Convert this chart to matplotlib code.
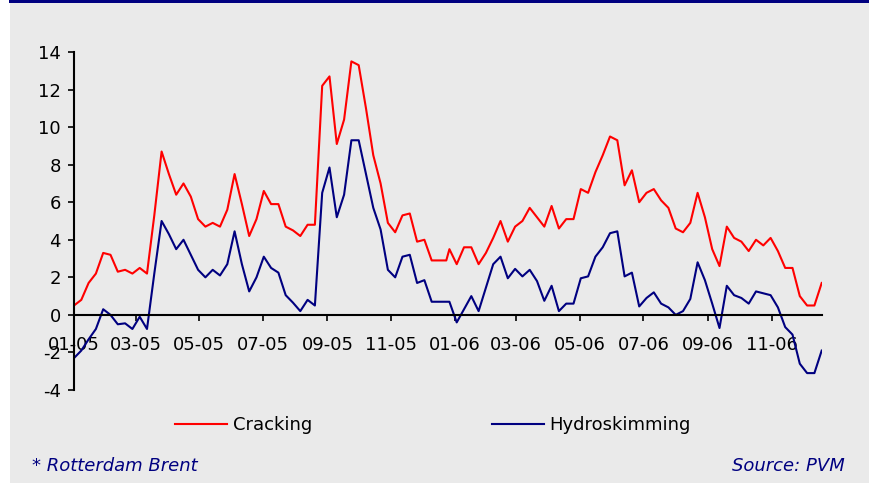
import numpy as np
import pandas as pd
import matplotlib
matplotlib.use('Agg')
import matplotlib.pyplot as plt
import matplotlib.dates as mdates
from matplotlib.patches import Rectangle

# Weekly margins, USD/bbl (2005 quoted on Fridays, 2006 on Mondays)
dates_2005 = pd.date_range('2005-01-07', periods=52, freq='7D')
dates_2006 = pd.date_range('2006-01-02', periods=52, freq='7D')
dates = dates_2005.append(dates_2006)

cracking_2005 = [0.5, 0.8, 1.7, 2.2, 3.3, 3.2, 2.3, 2.4, 2.2, 2.5, 2.2, 5.3, 8.7,
                 7.5, 6.4, 7.0, 6.3, 5.1, 4.7, 4.9, 4.7, 5.6, 7.5, 5.9, 4.2, 5.1,
                 6.6, 5.9, 5.9, 4.7, 4.5, 4.2, 4.8, 4.8, 12.2, 12.7, 9.1, 10.4, 13.5,
                 13.3, 11.0, 8.5, 7.0, 4.9, 4.4, 5.3, 5.4, 3.9, 4.0, 2.9, 2.9, 2.9]
cracking_2006 = [3.5, 2.7, 3.6, 3.6, 2.7, 3.3, 4.1, 5.0, 3.9, 4.7, 5.0, 5.7, 5.2,
                 4.7, 5.8, 4.6, 5.1, 5.1, 6.7, 6.5, 7.6, 8.5, 9.5, 9.3, 6.9, 7.7,
                 6.0, 6.5, 6.7, 6.1, 5.7, 4.6, 4.4, 4.9, 6.5, 5.2, 3.5, 2.6, 4.7,
                 4.1, 3.9, 3.4, 4.0, 3.7, 4.1, 3.4, 2.5, 2.5, 1.0, 0.5, 0.5, 1.7]

hydro_2005 = [-2.3, -1.9, -1.3, -0.75, 0.3, 0.0, -0.5, -0.45, -0.75, -0.1, -0.75, 2.2, 5.0,
              4.3, 3.5, 4.0, 3.2, 2.4, 2.0, 2.4, 2.1, 2.7, 4.45, 2.7, 1.25, 2.0,
              3.1, 2.5, 2.25, 1.05, 0.65, 0.2, 0.8, 0.5, 6.5, 7.85, 5.2, 6.4, 9.3,
              9.3, 7.5, 5.7, 4.55, 2.4, 2.0, 3.1, 3.2, 1.7, 1.85, 0.7, 0.7, 0.7]
hydro_2006 = [0.7, -0.4, 0.3, 1.0, 0.2, 1.45, 2.7, 3.1, 1.95, 2.45, 2.05, 2.4, 1.8,
              0.75, 1.55, 0.2, 0.6, 0.6, 1.95, 2.05, 3.1, 3.6, 4.35, 4.45, 2.05, 2.25,
              0.45, 0.9, 1.2, 0.6, 0.4, 0.0, 0.2, 0.85, 2.8, 1.85, 0.6, -0.7, 1.55,
              1.05, 0.9, 0.6, 1.25, 1.15, 1.05, 0.4, -0.65, -1.05, -2.6, -3.1, -3.1, -1.9]

cracking = np.array(cracking_2005 + cracking_2006)
hydro = np.array(hydro_2005 + hydro_2006)

tick_dates = pd.date_range('2005-01-07', periods=12, freq=pd.DateOffset(months=2))
yticks = np.arange(-4, 15, 2)

plt.rcParams['font.family'] = ['DejaVu Sans']
plt.rcParams['axes.unicode_minus'] = False
navy = '#000080'

fig = plt.figure(figsize=(8.7, 4.83), dpi=100, facecolor='#EAEAEA')
# white margin on the left and navy rule along the top
fig.patches.append(Rectangle((0, 0), 10 / 870, 1, transform=fig.transFigure,
                             facecolor='white', edgecolor='none', zorder=0))
fig.patches.append(Rectangle((9 / 870, 1 - 3 / 483), 1, 3 / 483, transform=fig.transFigure,
                             facecolor=navy, edgecolor='none', zorder=0))

ax = fig.add_axes([74 / 870, 1 - 390 / 483, 747.7 / 870, 338 / 483])
ax.patch.set_visible(False)

ax.plot(dates, cracking, color='#FF0000', lw=1.5, label='Cracking')
ax.plot(dates, hydro, color=navy, lw=1.5, label='Hydroskimming')

ax.set_ylim(-4, 14)
ax.set_yticks(yticks)
ax.set_xlim(dates[0], dates[-1])
ax.set_xticks(tick_dates)
ax.xaxis.set_major_formatter(mdates.DateFormatter('%m-%y'))

for s in ['top', 'right']:
    ax.spines[s].set_visible(False)
ax.spines['bottom'].set_position(('data', 0))
ax.spines['bottom'].set_linewidth(1.5)
ax.spines['left'].set_linewidth(1.5)
ax.tick_params(axis='y', direction='out', length=4.5, width=1.2, pad=5, labelsize=13)
ax.tick_params(axis='x', direction='out', length=4.5, width=1.2, pad=11, labelsize=13)

fig.legend(loc='center left', bbox_to_anchor=(175 / 870, 1 - 425 / 483), ncol=2,
           frameon=False, fontsize=13, handlelength=2.9, handletextpad=0.3,
           columnspacing=9.95, borderpad=0, borderaxespad=0)

fig.text(32 / 870, 1 - 466 / 483, '* Rotterdam Brent', color=navy, style='italic',
         fontsize=13, va='center', ha='left')
fig.text(845 / 870, 1 - 466 / 483, 'Source: PVM', color=navy, style='italic',
         fontsize=13, va='center', ha='right')

plt.savefig('out.png', dpi=100, facecolor=fig.get_facecolor())
